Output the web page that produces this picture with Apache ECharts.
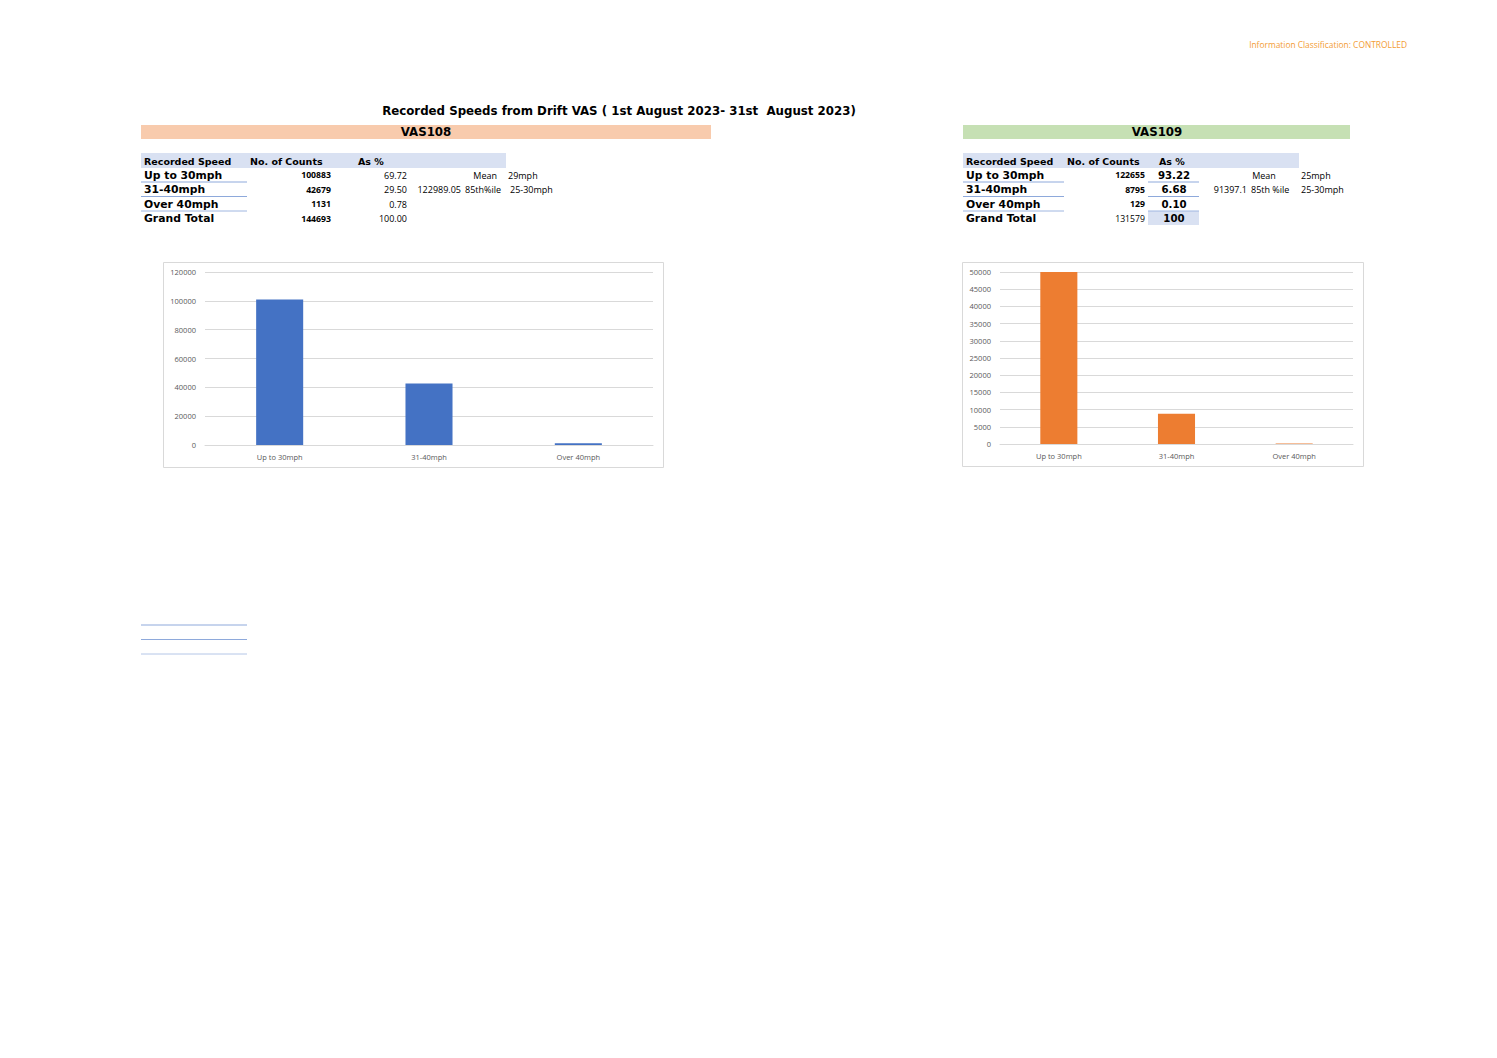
<!DOCTYPE html>
<html>
<head>
<meta charset="utf-8">
<script src="https://cdn.jsdelivr.net/npm/echarts@6/dist/echarts.min.js"></script>
<style>
html,body{margin:0;padding:0;background:#fff;}
#c{width:1497px;height:1058px;}
</style>
</head>
<body>
<div id="c"></div>
<script>
// ---- data ----
const categories = ['Up to 30mph', '31-40mph', 'Over 40mph'];
const tableRowLabels = ['Up to 30mph', '31-40mph', 'Over 40mph', 'Grand Total'];
const tableHeaders = ['Recorded Speed', 'No. of Counts', 'As %'];
const vas108Counts = [100883, 42679, 1131];
const vas108Total = 144693;
const vas108Pct = ['69.72', '29.50', '0.78', '100.00'];
const vas108Mean = '29mph';
const vas108P85Value = '122989.05';
const vas108P85 = '25-30mph';
const vas109Counts = [122655, 8795, 129];
const vas109Total = 131579;
const vas109Pct = ['93.22', '6.68', '0.10', '100'];
const vas109Mean = '25mph';
const vas109P85Value = '91397.1';
const vas109P85 = '25-30mph';
const vas108Ticks = { min: 0, max: 120000, interval: 20000 };
const vas109Ticks = { min: 0, max: 50000, interval: 5000 };
const titleText = 'Recorded Speeds from Drift VAS ( 1st August 2023- 31st  August 2023)';
const classificationText = 'Information Classification: CONTROLLED';

// ---- styles ----
const VERD_B = 'DejaVu Sans';
const LINE = '#8EA9DB';
const HEAD_BG = '#D9E1F2';

function txt(x, y, text, opt) {
  opt = opt || {};
  return {
    type: 'text', silent: true, z: 10,
    style: {
      x: x, y: y, text: text,
      fontFamily: opt.family || VERD_B,
      fontSize: opt.size || 10,
      fontWeight: opt.weight || 'normal',
      fill: opt.color || '#000',
      align: opt.align || 'left',
      verticalAlign: 'middle'
    }
  };
}
function rect(x, y, w, h, fill, stroke) {
  return { type: 'rect', silent: true, z: 1,
    shape: { x: x, y: y, width: w, height: h },
    style: { fill: fill || 'none', stroke: stroke || null, lineWidth: 1 } };
}
function hline(x1, x2, y, color) {
  return { type: 'line', silent: true, z: 5,
    shape: { x1: x1, y1: y, x2: x2, y2: y },
    style: { stroke: color || LINE, lineWidth: 1 } };
}

const rowY = [175, 189.5, 204, 218.5];
const g = [];
// classification & title
g.push(txt(1407, 44, classificationText, { family: 'Open Sans', size: 8.4, color: '#F39C34', align: 'right' }));
g.push(txt(619, 111, titleText, { size: 11.8, weight: 'bold', align: 'center' }));
// bands
g.push(rect(141, 125, 570, 14, '#F8CBAD'));
g.push(txt(426, 132, 'VAS108', { size: 11.8, weight: 'bold', align: 'center' }));
g.push(rect(963, 125, 387, 14, '#C6E0B4'));
g.push(txt(1157, 132, 'VAS109', { size: 11.8, weight: 'bold', align: 'center' }));

// VAS108 table
g.push(rect(141, 153, 365, 15, HEAD_BG));
g.push(txt(144, 161, tableHeaders[0], { size: 9.5, weight: 'bold' }));
g.push(txt(250, 161, tableHeaders[1], { size: 9.5, weight: 'bold' }));
g.push(txt(358, 161, tableHeaders[2], { size: 9.5, weight: 'bold' }));
const c108 = vas108Counts.concat([vas108Total]);
tableRowLabels.forEach(function (lab, i) {
  g.push(txt(144, rowY[i], lab, { size: 10.8, weight: 'bold' }));
  g.push(txt(331, rowY[i], String(c108[i]), { family: 'Open Sans', size: 8.7, weight: 'bold', align: 'right' }));
  g.push(txt(407, rowY[i], vas108Pct[i], { family: 'Open Sans', size: 9, align: 'right' }));
});
[182, 196.5, 211].forEach(function (y, i) { g.push(hline(141, 247, y, i === 2 ? '#9FB6E0' : LINE)); });
g.push(txt(497, rowY[0], 'Mean', { family: 'Open Sans', size: 9, align: 'right' }));
g.push(txt(508, rowY[0], vas108Mean, { family: 'Open Sans', size: 9 }));
g.push(txt(461, rowY[1], vas108P85Value, { family: 'Open Sans', size: 9, align: 'right' }));
g.push(txt(465, rowY[1], '85th%ile', { family: 'Open Sans', size: 9 }));
g.push(txt(510, rowY[1], vas108P85, { family: 'Open Sans', size: 9 }));

// VAS109 table
g.push(rect(963, 153, 336, 15, HEAD_BG));
g.push(txt(966, 161, tableHeaders[0], { size: 9.5, weight: 'bold' }));
g.push(txt(1067, 161, tableHeaders[1], { size: 9.5, weight: 'bold' }));
g.push(txt(1159, 161, tableHeaders[2], { size: 9.5, weight: 'bold' }));
g.push(rect(1148, 211, 51, 14, HEAD_BG));
const c109 = vas109Counts.concat([vas109Total]);
tableRowLabels.forEach(function (lab, i) {
  g.push(txt(966, rowY[i], lab, { size: 10.8, weight: 'bold' }));
  g.push(txt(1145, rowY[i], String(c109[i]), { family: 'Open Sans', size: 8.7, weight: i < 3 ? 'bold' : 'normal', align: 'right' }));
  g.push(txt(1174, rowY[i], vas109Pct[i], { size: 10.2, weight: 'bold', align: 'center' }));
});
[182, 196.5, 211].forEach(function (y, i) {
  g.push(hline(963, 1064, y, i === 2 ? '#9FB6E0' : LINE));
  g.push(hline(1148, 1199, y, i === 2 ? '#9FB6E0' : LINE));
});
g.push(txt(1264, rowY[0], 'Mean', { family: 'Open Sans', size: 9, align: 'center' }));
g.push(txt(1301, rowY[0], vas109Mean, { family: 'Open Sans', size: 9 }));
g.push(txt(1247, rowY[1], vas109P85Value, { family: 'Open Sans', size: 9, align: 'right' }));
g.push(txt(1251, rowY[1], '85th %ile', { family: 'Open Sans', size: 9 }));
g.push(txt(1301, rowY[1], vas109P85, { family: 'Open Sans', size: 9 }));

// stray cell borders
g.push(hline(141, 247, 625, LINE));
g.push(hline(141, 247, 639.5, LINE));
g.push(hline(141, 247, 654, '#B4C6E7'));

// chart frames
g.push(rect(163.5, 262.5, 500, 205, 'none', '#D9D9D9'));
g.push(rect(962.5, 262.5, 401, 204, 'none', '#D9D9D9'));

const axisLabelStyle = { color: '#595959', fontFamily: 'Open Sans', fontSize: 7.5 };
const plain = function (v) { return String(v); };

const option = {
  animation: false,
  backgroundColor: '#fff',
  graphic: { elements: g },
  grid: [
    { left: 205, top: 272, width: 448, height: 173, containLabel: false },
    { left: 1000, top: 272, width: 353, height: 172, containLabel: false }
  ],
  xAxis: [
    { type: 'category', gridIndex: 0, data: categories,
      axisLine: { lineStyle: { color: '#D9D9D9' } }, axisTick: { show: false },
      axisLabel: Object.assign({ margin: 8 }, axisLabelStyle) },
    { type: 'category', gridIndex: 1, data: categories,
      axisLine: { lineStyle: { color: '#D9D9D9' } }, axisTick: { show: false },
      axisLabel: Object.assign({ margin: 8 }, axisLabelStyle) }
  ],
  yAxis: [
    { type: 'value', gridIndex: 0, min: vas108Ticks.min, max: vas108Ticks.max, interval: vas108Ticks.interval,
      axisLine: { show: false }, axisTick: { show: false },
      splitLine: { lineStyle: { color: '#D9D9D9' } },
      axisLabel: Object.assign({ margin: 9, formatter: plain }, axisLabelStyle) },
    { type: 'value', gridIndex: 1, min: vas109Ticks.min, max: vas109Ticks.max, interval: vas109Ticks.interval,
      axisLine: { show: false }, axisTick: { show: false },
      splitLine: { lineStyle: { color: '#D9D9D9' } },
      axisLabel: Object.assign({ margin: 9, formatter: plain }, axisLabelStyle) }
  ],
  series: [
    { type: 'bar', xAxisIndex: 0, yAxisIndex: 0, data: vas108Counts, barWidth: '31.5%',
      itemStyle: { color: '#4472C4' }, clip: true },
    { type: 'bar', xAxisIndex: 1, yAxisIndex: 1, data: vas109Counts, barWidth: '31.5%',
      itemStyle: { color: '#ED7D31' }, clip: true }
  ]
};
const chart = echarts.init(document.getElementById('c'), null, { renderer: 'svg' });
chart.setOption(option);
</script>
</body>
</html>
